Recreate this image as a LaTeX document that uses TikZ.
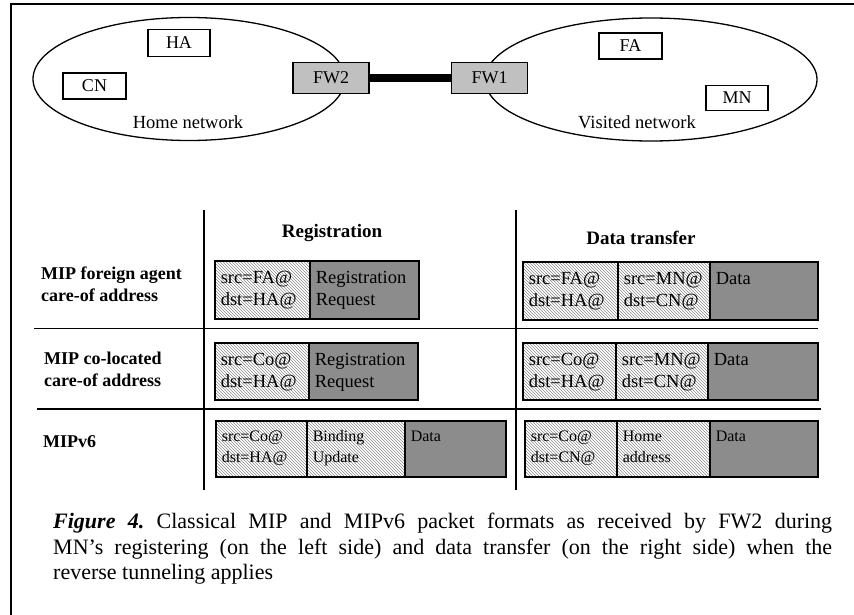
\documentclass[tikz,border=0pt]{standalone}
\usepackage{fontspec}
\setmainfont{Liberation Serif}
\usetikzlibrary{shapes.geometric,patterns}
\definecolor{darkfill}{RGB}{140,140,140}
\definecolor{fwfill}{RGB}{192,192,192}
\newcommand\cellt[4]{\parbox[c][#2][t]{#1}{\raggedright\setlength\leftskip{6pt}\rule{0pt}{#3}#4}}
\tikzset{
  hatchbox/.style={draw, line width=1.6pt, pattern=north west lines, pattern color=black!45, inner sep=0pt, anchor=north west, font=\fontsize{18.5}{22}\selectfont},
  graybox/.style={draw, line width=1.6pt, fill=darkfill, inner sep=0pt, anchor=north west, font=\fontsize{18.5}{22}\selectfont},
  small/.style={font=\fontsize{16}{21}\selectfont},
  host/.style={draw, line width=1.4pt, minimum width=62pt, minimum height=27pt, inner sep=0pt, font=\fontsize{18}{20}\selectfont},
  fwbox/.style={host, fill=fwfill, minimum width=76pt, minimum height=30.5pt},
  net/.style={draw, ellipse, line width=1.3pt, inner sep=0pt},
  rule/.style={line width=1.6pt},
  rowlab/.style={anchor=west, align=left, inner sep=0pt, font=\fontsize{18}{22}\selectfont\bfseries},
  head/.style={inner sep=0pt, font=\fontsize{19}{22}\selectfont\bfseries},
  netlab/.style={inner sep=0pt, font=\fontsize{18.5}{22}\selectfont}
}
\begin{document}
\begin{tikzpicture}[x=1pt,y=-1pt]
\useasboundingbox (0,0) rectangle (854,615);
% frame
\draw[line width=2.2pt] (11,615) -- (11,4) -- (854,4);
% networks
\node[net, minimum width=312pt, minimum height=123pt] (home) at (189,79) {};
\node[net, minimum width=332pt, minimum height=123pt] (visited) at (651,79.5) {};
\node[host] (ha) at (179,43) {HA};
\node[host, minimum width=63pt, minimum height=26pt] (cn) at (94.5,86) {CN};
\node[host, minimum width=63pt, minimum height=26pt] (fa) at (630.5,46) {FA};
\node[host, minimum width=62pt, minimum height=25.5pt] (mn) at (737,98) {MN};
\node[netlab] (homelab) at (188,122) {Home network};
\node[netlab] (vislab) at (637,122) {Visited network};
\node[fwbox] (fw2) at (331,78) {FW2};
\node[fwbox] (fw1) at (489.5,78) {FW1};
\draw[line width=8pt] (fw2.east) -- (fw1.west);
% table rules
\coordinate (v1t) at (204,210); \coordinate (v1b) at (204,490);
\coordinate (v2t) at (516,210); \coordinate (v2b) at (516,490);
\coordinate (h1l) at (34,328.5); \coordinate (h1r) at (818,328.5);
\coordinate (h2l) at (37,409); \coordinate (h2r) at (821,409);
\draw[rule] (v1t) -- (v1b);
\draw[rule] (v2t) -- (v2b);
\draw[rule] (h1l) -- (h1r);
\draw[rule] (h2l) -- (h2r);
% headers
\node[head] (hreg) at (332,233) {Registration};
\node[head] (hdat) at (641,238) {Data transfer};
% row labels
\node[rowlab] (lab1) at (41,284) {MIP foreign agent\\care-of address};
\node[rowlab] (lab2) at (44,369) {MIP co-located\\care-of address};
\node[rowlab] (lab3) at (43,442) {MIPv6};
% row 1
\node[hatchbox] (r1a) at (214,260) {\cellt{95pt}{58pt}{23pt}{src=FA@\\dst=HA@}};
\node[graybox] (r1b) at (309,260) {\cellt{109pt}{58pt}{23pt}{Registration\\Request}};
\node[hatchbox] (r1c) at (522,261) {\cellt{95pt}{58pt}{23pt}{src=FA@\\dst=HA@}};
\node[hatchbox] (r1d) at (617,261) {\cellt{92pt}{58pt}{23pt}{src=MN@\\dst=CN@}};
\node[graybox] (r1e) at (709,261) {\cellt{108pt}{58pt}{23pt}{Data}};
% row 2
\node[hatchbox] (r2a) at (214,342) {\cellt{94pt}{57pt}{23pt}{src=Co@\\dst=HA@}};
\node[graybox] (r2b) at (308,342) {\cellt{109pt}{57pt}{23pt}{Registration\\Request}};
\node[hatchbox] (r2c) at (522,342) {\cellt{93pt}{57pt}{23pt}{src=Co@\\dst=HA@}};
\node[hatchbox] (r2d) at (615,342) {\cellt{92pt}{57pt}{23pt}{src=MN@\\dst=CN@}};
\node[graybox] (r2e) at (707,342) {\cellt{110pt}{57pt}{23pt}{Data}};
% row 3
\node[hatchbox, small] (r3a) at (215,420) {\cellt{91pt}{56pt}{21pt}{src=Co@\\dst=HA@}};
\node[hatchbox, small] (r3b) at (306,420) {\cellt{98pt}{56pt}{21pt}{Binding\\Update}};
\node[graybox, small] (r3c) at (404,420) {\cellt{101pt}{56pt}{21pt}{Data}};
\node[hatchbox, small] (r3d) at (524,420) {\cellt{92pt}{56pt}{21pt}{src=Co@\\dst=CN@}};
\node[hatchbox, small] (r3e) at (616,420) {\cellt{93pt}{56pt}{21pt}{Home\\address}};
\node[graybox, small] (r3f) at (709,420) {\cellt{108pt}{56pt}{21pt}{Data}};
% caption
\node[anchor=north west, text width=779pt, align=justify, inner sep=0pt, font=\fontsize{22}{25.5}\selectfont\frenchspacing] (cap) at (53,513)
{\textbf{\textit{Figure 4.}} Classical MIP and MIPv6 packet formats as received by FW2 during\linebreak
MN’s registering (on the left side) and data transfer (on the right side) when the\linebreak
reverse tunneling applies};
\end{tikzpicture}
\end{document}
